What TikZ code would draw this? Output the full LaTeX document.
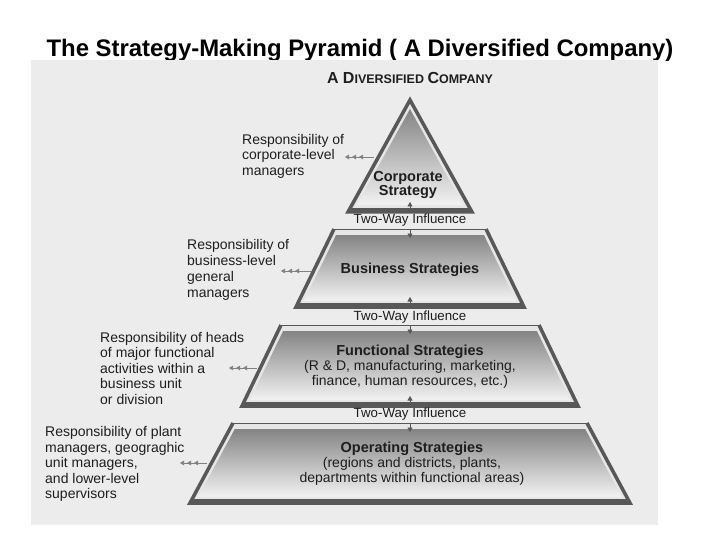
\documentclass[tikz,border=0pt]{standalone}
\usepackage{fontspec}
\setmainfont{Liberation Sans}
\usetikzlibrary{arrows.meta}
\definecolor{scanbg}{RGB}{236,236,236}
\definecolor{inkgray}{RGB}{30,30,30}
\definecolor{layerlight}{RGB}{230,230,230}
\definecolor{layerdark}{RGB}{132,132,132}
\definecolor{layerfade}{RGB}{242,242,242}
\definecolor{edgegray}{RGB}{88,88,88}
\tikzset{
    %Define standard arrow tip
    >=Stealth,
    %Define styles for texts
    title/.style={anchor=base, inner sep=0pt, font=\bfseries\fontsize{23.9}{28}\selectfont},
    resp/.style={align=left, anchor=west, inner sep=0pt, text=inkgray,
           font=\fontsize{14}{15.5}\selectfont},
    strat/.style={align=center, inner sep=0pt, text=inkgray,
           font=\fontsize{14}{15}\selectfont},
    influence/.style={inner sep=0pt, text=inkgray, font=\fontsize{13.3}{15}\selectfont},
    %Define styles for the layers
    layerbase/.style={fill=layerlight},
    layershade/.style={top color=layerdark, bottom color=layerfade},
    layerrim/.style={draw=edgegray, line width=0.9pt},
    layeredge/.style={draw=edgegray, line width=3.5pt, line join=miter},
    layerband/.style={draw=edgegray, line width=4pt},
    % Define arrow styles
    resparrow/.style={draw=gray, line width=0.7pt,
           -{Triangle[length=4pt,width=4.5pt,sep=3pt]Triangle[length=4pt,width=4.5pt,sep=3pt]Triangle[length=4pt,width=4.5pt]}},
    twoway/.style={draw=edgegray, line width=0.7pt, -{Triangle[length=4.5pt,width=5pt]}}
}
% one trapezoid layer: name, top y, half top width, bottom y, half bottom width
\newcommand\pyrlayer[5]{%
  \pgfmathsetmacro\lyrk{(#5-#3)/(#4-#2)}
  \pgfmathsetmacro\lyrti{#3+\lyrk*6-5}
  \pgfmathsetmacro\lyrbi{#5-\lyrk*6-5}
  \fill[layerbase] (410-#3,#2) -- (410+#3,#2) -- (410+#5,#4) -- (410-#5,#4) -- cycle;
  \shade[layershade] (410-\lyrti,#2+6) -- (410+\lyrti,#2+6) -- (410+\lyrbi,#4-6) -- (410-\lyrbi,#4-6) -- cycle;
  \draw[layerrim] (410-#3,#2) -- (410+#3,#2);
  \draw[layeredge] (410-#3,#2) -- (410-#5,#4) -- (410+#5,#4) -- (410+#3,#2);
  \draw[layerband] (410-#5+3,#4-2) -- (410+#5-3,#4-2);
  \coordinate (#1top) at (410,#2);
  \coordinate (#1topin) at (410,#2+9);
  \coordinate (#1bot) at (410,#4-3);
  \coordinate (#1botin) at (410,#4-10);
}
\newcommand\strathead[1]{{\bfseries\fontsize{14.5}{15}\selectfont #1}}
\begin{document}
\begin{tikzpicture}[x=1pt,y=-1pt]
\useasboundingbox (0,0) rectangle (720,540);
%title, partly hidden by the scanned figure
\node[title] (title) at (360,57) {The Strategy-Making Pyramid ( A Diversified Company)};
\fill[scanbg] (31,60) rectangle (658,525);
\node[anchor=base, inner sep=0pt, text=inkgray, font=\bfseries] (company) at (410,84)
  {{\fontsize{16}{18}\selectfont A D}{\fontsize{12.5}{18}\selectfont IVERSIFIED }{\fontsize{16}{18}\selectfont C}{\fontsize{12.5}{18}\selectfont OMPANY}};

%top of the pyramid
\fill[layerbase] (410,100) -- (472,212) -- (348,212) -- cycle;
\shade[layershade] (410,109) -- (463,205) -- (357,205) -- cycle;
\draw[layeredge] (410,100) -- (348,212) -- (472,212) -- cycle;
\draw[layerband] (351,210) -- (469,210);
\coordinate (corpbot) at (410,209);
\coordinate (corpbotin) at (410,202);

%layers
\pyrlayer{bus}{229}{76}{307}{114}
\pyrlayer{func}{325}{129}{406}{168}
\pyrlayer{oper}{423}{177}{503}{220}

%texts in the layers
\node[strat, font=\fontsize{14}{14}\selectfont] (corp) at (408,185) {\strathead{Corporate}\\\strathead{Strategy}};
\node[strat] (bus) at (410,270) {\strathead{Business Strategies}};
\node[strat] (func) at (410,367) {\strathead{Functional Strategies}\\(R \& D, manufacturing, marketing,\\finance, human resources, etc.)};
\node[strat] (oper) at (412,464) {\strathead{Operating Strategies}\\(regions and districts, plants,\\departments within functional areas)};

%influence between layers
\node[influence] (inf1) at (410,220) {Two-Way Influence};
\node[influence] (inf2) at (410,317) {Two-Way Influence};
\node[influence] (inf3) at (410,414) {Two-Way Influence};
\draw[twoway] (corpbot) -- (corpbotin);
\draw[twoway] (bustop) -- (bustopin);
\draw[twoway] (busbot) -- (busbotin);
\draw[twoway] (functop) -- (functopin);
\draw[twoway] (funcbot) -- (funcbotin);
\draw[twoway] (opertop) -- (opertopin);

%responsibilities
\node[resp] (rcorp) at (242,156) {Responsibility of\\corporate-level\\managers};
\node[resp, font=\fontsize{14}{16}\selectfont] (rbus) at (187,270) {Responsibility of\\business-level\\general\\managers};
\node[resp] (rfunc) at (100,368) {Responsibility of heads\\of major functional\\activities within a\\business unit\\or division};
\node[resp] (roper) at (45,464) {Responsibility of plant\\managers, geograghic\\unit managers,\\and lower-level\\supervisors};

\coordinate (acorp1) at (374,157);
\coordinate (acorp2) at (345,157);
\coordinate (abus1) at (311,271);
\coordinate (abus2) at (281,271);
\coordinate (afunc1) at (257,368);
\coordinate (afunc2) at (229,368);
\coordinate (aoper1) at (207,463);
\coordinate (aoper2) at (180,463);
\draw[resparrow] (acorp1) -- (acorp2);
\draw[resparrow] (abus1) -- (abus2);
\draw[resparrow] (afunc1) -- (afunc2);
\draw[resparrow] (aoper1) -- (aoper2);

\end{tikzpicture}
\end{document}
